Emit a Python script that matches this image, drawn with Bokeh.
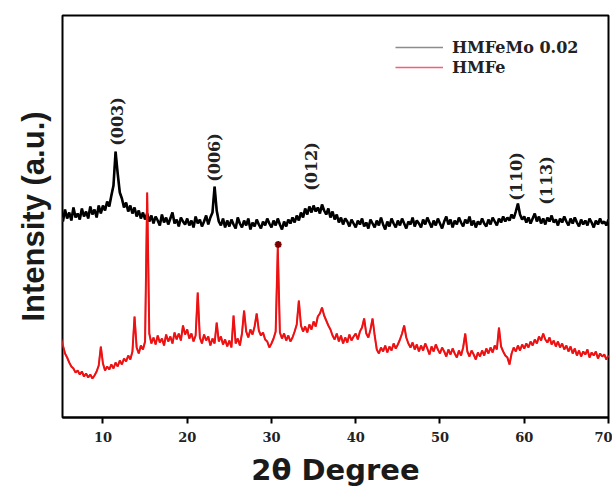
import numpy as np
from bokeh.plotting import figure
from bokeh.models import Range1d, FixedTicker, Legend, LegendItem, Label, ColumnDataSource
from bokeh.embed import file_html
from bokeh.resources import INLINE

# 2-theta grid (0.25 degree steps, 5 .. 70)
two_theta = np.arange(0, 261) * 0.25 + 5.0

hmfemo = [
    203,196,208,199,205,197,210,200,204,198,209,201,206,199,211,203,208,200,212,204,
    212,207,216,211,222,232,266,244,225,219,210,215,206,212,204,210,201,207,199,205,
    198,204,196,202,194,201,197,192,203,195,200,193,199,205,194,198,191,200,196,193,
    199,192,197,190,201,194,198,191,196,202,193,200,205,231,207,196,192,199,190,197,
    191,198,193,189,200,194,190,197,192,199,188,195,191,198,193,189,196,192,199,194,
    190,197,192,199,193,188,196,191,198,194,200,195,202,197,205,200,209,203,211,205,
    212,206,210,204,213,207,203,209,200,206,198,203,195,200,193,199,196,191,198,194,
    190,197,193,199,191,195,189,198,194,190,197,192,200,193,188,196,191,199,194,190,
    197,192,199,194,189,196,193,200,191,197,194,190,198,193,200,195,190,197,192,199,
    194,189,196,201,193,198,190,197,193,200,195,191,198,194,201,192,197,190,196,193,
    199,194,191,198,193,200,196,192,199,195,201,196,200,197,203,199,206,214,203,198,
    201,195,200,194,199,204,196,201,194,199,193,200,196,202,195,198,192,199,195,201,
    196,192,199,194,200,195,191,198,193,197,192,199,195,190,197,193,199,194,196,192,
    198,
]

hmfe = [
    80,72,64,60,55,51,49,45,47,43,46,41,44,40,43,39,42,46,52,71,
    54,47,51,48,53,49,55,51,57,53,59,56,62,58,66,101,70,64,72,68,
    76,225,84,74,80,73,82,75,79,72,83,76,81,74,85,78,84,77,92,83,
    88,79,84,76,82,125,80,74,83,77,81,72,79,74,95,76,81,73,78,71,
    77,70,102,74,79,72,84,107,86,80,88,83,91,104,87,82,85,78,76,70,
    74,79,86,170,85,79,84,77,82,76,80,86,93,117,92,86,91,85,93,88,
    96,91,101,104,110,102,97,92,88,82,78,84,76,82,74,80,75,83,77,81,
    84,78,86,90,99,84,80,88,99,82,68,64,70,66,72,65,71,67,74,69,
    73,78,84,92,80,74,70,75,68,73,66,72,67,74,69,63,71,66,73,68,
    64,70,66,61,68,63,69,64,60,67,62,70,84,66,61,67,63,58,65,61,
    67,62,69,64,70,65,72,68,90,71,66,62,60,53,64,70,66,72,67,73,
    69,74,70,76,72,78,74,81,77,84,78,75,80,73,77,71,76,70,74,68,
    72,66,71,64,69,62,67,61,66,63,68,60,65,62,66,59,64,61,63,58,
    62,
]

series_names = ["HMFeMo 0.02", "HMFe"]
x_ticks = [10, 20, 30, 40, 50, 60, 70]

peak_labels = ["(003)", "(006)", "(012)", "(110)", "(113)"]
peak_label_x = [11.7, 23.2, 34.7, 59.1, 62.7]
peak_label_y = [296, 260, 251, 241, 237]

star_x = [30.8]
star_y = [173]

src = ColumnDataSource(dict(x=two_theta, a=hmfemo, b=hmfe))

p = figure(width=612, height=500, x_range=Range1d(5.2, 70), y_range=Range1d(0, 402),
           output_backend="svg", toolbar_location=None,
           min_border_left=62, min_border_right=4, min_border_top=15, min_border_bottom=83)

p.background_fill_color = "white"
p.border_fill_color = "white"
p.grid.visible = False
p.outline_line_color = "black"
p.outline_line_width = 2

p.yaxis.ticker = FixedTicker(ticks=[])
p.yaxis.axis_line_color = None
p.yaxis.major_tick_line_color = None
p.yaxis.minor_tick_line_color = None
p.yaxis.major_label_text_font_size = "0px"
p.yaxis.axis_label = "Intensity (a.u.)"
p.yaxis.axis_label_text_font = "Liberation Sans"
p.yaxis.axis_label_text_font_style = "bold"
p.yaxis.axis_label_text_font_size = "31px"
p.yaxis.axis_label_text_color = "#1a1a1a"
p.yaxis.axis_label_standoff = 12

p.xaxis.ticker = FixedTicker(ticks=x_ticks)
p.xaxis.axis_line_width = 2
p.xaxis.major_tick_line_width = 2
p.xaxis.major_tick_out = 6
p.xaxis.major_tick_in = 0
p.xaxis.minor_tick_line_color = None
p.xaxis.major_label_standoff = 8
p.xaxis.major_label_text_font = "DejaVu Serif"
p.xaxis.major_label_text_font_style = "bold"
p.xaxis.major_label_text_font_size = "13px"
p.xaxis.major_label_text_color = "#222222"
p.xaxis.axis_label = "2θ Degree"
p.xaxis.axis_label_text_font = "DejaVu Sans"
p.xaxis.axis_label_text_font_style = "bold"
p.xaxis.axis_label_text_font_size = "29px"
p.xaxis.axis_label_text_color = "#1a1a1a"
p.xaxis.axis_label_standoff = 8

# thin copies underneath give the lighter legend samples of the source
r_black_key = p.line("x", "a", source=src, line_color="#8c8c8c", line_width=1.6)
r_red_key = p.line("x", "b", source=src, line_color="#f0607a", line_width=1.6)

r_black = p.line("x", "a", source=src, line_color="black", line_width=2.6)
r_red = p.line("x", "b", source=src, line_color="#ee1111", line_width=2.0)

p.scatter(star_x, star_y, marker="asterisk", size=7, line_color="#7a0000", line_width=2)

for t, xx, yy in zip(peak_labels, peak_label_x, peak_label_y):
    p.add_layout(Label(x=xx, y=yy, text=t, angle=np.pi / 2, text_align="center",
                       text_baseline="middle", text_font="DejaVu Serif",
                       text_font_style="bold", text_font_size="16px", text_color="#222222"))

legend = Legend(items=[LegendItem(label=series_names[0], renderers=[r_black_key]),
                       LegendItem(label=series_names[1], renderers=[r_red_key])],
                location=(333, 340), glyph_width=48, glyph_height=20, label_height=20,
                label_standoff=9, spacing=0, padding=0, margin=0,
                border_line_color=None, background_fill_alpha=0,
                label_text_font="DejaVu Serif", label_text_font_style="bold",
                label_text_font_size="16px", label_text_color="#222222")
p.add_layout(legend)

open("out.html", "w").write(file_html(p, INLINE))
